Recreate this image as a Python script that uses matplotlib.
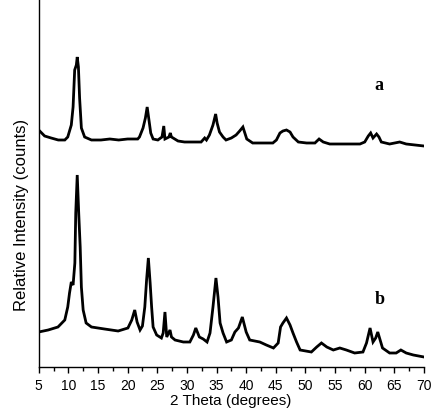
import matplotlib
matplotlib.use("Agg")
import matplotlib.pyplot as plt
from matplotlib.ticker import MultipleLocator

# 2-theta positions and relative intensities
two_theta_a = [5.0, 6.0, 7.1, 8.3, 9.4, 9.9, 10.5, 10.8, 11.07, 11.35, 11.5, 11.7, 11.9,
               12.2, 12.75, 13.9, 15.5, 17.0, 18.5, 20.0, 21.7, 22.0, 22.6, 23.0, 23.3,
               23.6, 23.9, 24.3, 25.1, 25.8, 26.1, 26.3, 26.97, 27.2, 27.4, 28.5, 29.6,
               31.0, 32.4, 33.0, 33.3, 33.8, 34.4, 34.85, 35.1, 35.5, 36.1, 36.6, 37.5,
               38.3, 38.9, 39.45, 40.1, 41.1, 42.8, 44.5, 45.1, 45.7, 46.2, 46.8, 47.4,
               47.9, 48.8, 50.2, 51.6, 52.3, 53.0, 54.1, 55.8, 57.5, 59.2, 60.0, 60.6,
               61.0, 61.4, 62.0, 62.4, 62.8, 64.2, 65.9, 67.0, 70.0]
intensity_a = [237, 231, 229, 227, 227, 230, 242, 260, 297, 302, 310, 300, 269,
               239, 230, 227, 227, 228, 227, 228, 228, 230, 239, 249, 260,
               247, 234, 228, 227, 230, 241, 228, 230, 234, 230, 226, 225,
               225, 225, 229, 227, 232, 242, 253, 244, 235, 230, 227, 229,
               232, 236, 240, 228, 224, 224, 224, 227, 234, 236, 237, 235,
               230, 225, 224, 224, 228, 225, 223, 223, 223, 223, 225, 231,
               234, 229, 233, 230, 225, 223, 225, 223, 221]

two_theta_b = [5.0, 6.6, 8.25, 9.4, 9.9, 10.2, 10.5, 10.8, 11.1, 11.25, 11.5, 11.75, 12.0,
               12.2, 12.5, 13.0, 13.9, 16.1, 18.4, 20.05, 20.7, 21.2, 21.6, 22.1, 22.5,
               22.9, 23.2, 23.5, 23.8, 24.05, 24.3, 24.9, 25.7, 26.0, 26.3, 26.6, 27.15,
               27.4, 28.0, 29.4, 30.5, 31.1, 31.5, 32.1, 32.75, 33.4, 33.9, 34.4, 34.9,
               35.25, 35.6, 36.1, 36.7, 37.5, 38.1, 38.7, 39.35, 40.0, 40.6, 42.3, 43.4,
               44.6, 45.4, 45.8, 46.2, 46.8, 47.4, 47.9, 48.5, 49.1, 51.0, 51.9, 52.7,
               53.6, 54.7, 55.8, 56.9, 58.3, 59.7, 60.3, 60.9, 61.4, 61.85, 62.2, 62.6,
               63.0, 64.2, 65.3, 66.1, 67.0, 68.2, 70.0]
intensity_b = [35, 37, 40, 47, 60, 74, 85, 82, 104, 154, 192, 154, 120,
               80, 57, 44, 40, 38, 36, 39, 47, 57, 45, 37, 41,
               60, 87, 109, 84, 60, 40, 32, 29, 34, 55, 30, 37,
               30, 27, 25, 25, 32, 39, 30, 28, 25, 34, 60, 89,
               70, 44, 34, 25, 27, 35, 39, 50, 35, 27, 25, 22,
               19, 24, 40, 44, 49, 42, 34, 25, 17, 15, 20, 24,
               20, 17, 19, 17, 14, 15, 24, 39, 25, 29, 35, 27,
               19, 14, 14, 17, 14, 12, 10]

series_labels = ["a", "b"]
label_pos = [(62.4, 281), (62.6, 67)]
x_ticks = list(range(5, 75, 5))

fig = plt.figure(figsize=(4.40, 4.12), dpi=100)
ax = fig.add_axes([38.7 / 440, 45 / 412, 385.3 / 440, 367 / 412])

ax.plot(two_theta_a, intensity_a, color="black", lw=2.0, solid_joinstyle="miter")
ax.plot(two_theta_b, intensity_b, color="black", lw=2.0, solid_joinstyle="miter")

for lab, (lx, ly) in zip(series_labels, label_pos):
    ax.text(lx, ly, lab, family="Liberation Serif", fontweight="bold",
            fontsize=13, ha="center", va="center")

ax.set_xlim(5, 70)
ax.set_ylim(0, 367)
ax.set_xticks(x_ticks)
ax.xaxis.set_minor_locator(MultipleLocator(2.5))
ax.set_yticks([])
for s in ("top", "right"):
    ax.spines[s].set_visible(False)
for s in ("left", "bottom"):
    ax.spines[s].set_linewidth(1.0)
ax.tick_params(axis="x", which="major", direction="out", length=4.5, width=1,
               pad=4, labelsize=10)
ax.tick_params(axis="x", which="minor", direction="out", length=3, width=1)
for t in ax.get_xticklabels():
    t.set_family("Liberation Sans")

fig.text(22 / 440, 1 - 215 / 412, "Relative Intensity (counts)", rotation=90,
         ha="center", va="center", family="Liberation Sans", fontsize=12)
fig.text(231 / 440, 4 / 412, "2 Theta (degrees)", ha="center",
         va="bottom", family="Liberation Sans", fontsize=11)

fig.savefig("out.png", dpi=100)
